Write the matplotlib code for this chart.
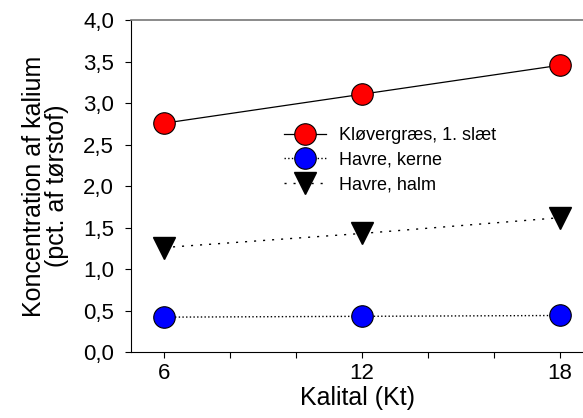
import matplotlib.pyplot as plt

plt.rcParams['font.family'] = ['Liberation Sans', 'DejaVu Sans']

kalital = [6, 12, 18]
kloever = [2.76, 3.11, 3.46]
havre_kerne = [0.42, 0.43, 0.44]
havre_halm = [1.26, 1.43, 1.62]

fig = plt.figure(figsize=(5.83, 4.18), dpi=100)
ax = fig.add_axes([0.2247, 0.158, 0.7753, 0.793])

ax.plot(kalital, kloever, '-', color='black', lw=0.9, marker='o', ms=15.5,
        mfc='#ff0000', mec='black', mew=0.8, label='Kløvergræs, 1. slæt')
ax.plot(kalital, havre_kerne, ':', color='black', lw=1.0, marker='o', ms=15.5,
        mfc='#0000ff', mec='black', mew=0.8, label='Havre, kerne')
ax.plot(kalital, havre_halm, color='black', lw=1.0, ls=(0, (1.5, 5)),
        marker='v', ms=15.5, mfc='black', mec='black', label='Havre, halm')

ax.set_xlim(5, 18.7)
ax.set_ylim(0, 4)
ax.set_xticks(range(6, 19, 2))
ax.set_xticklabels(['6', '', '', '12', '', '', '18'])
ax.set_yticks([i * 0.5 for i in range(9)])
ax.set_yticklabels([f'{i * 0.5:.1f}'.replace('.', ',') for i in range(9)])
ax.tick_params(direction='out', length=4.3, width=0.8, labelsize=16)
ax.tick_params(axis='y', pad=8)
ax.tick_params(axis='x', pad=4)

ax.spines['right'].set_visible(False)
ax.spines['top'].set_color('#777777')
ax.spines['top'].set_linewidth(1.2)

ax.set_xlabel('Kalital (Kt)', fontsize=18, labelpad=1)
ax.set_ylabel('Koncentration af kalium\n(pct. af tørstof)', fontsize=18,
              labelpad=10, linespacing=0.95)

ax.legend(loc='upper left', bbox_to_anchor=(0.472, 0.718), bbox_transform=fig.transFigure,
          frameon=False, fontsize=13, handlelength=2.3, handletextpad=0.75,
          labelspacing=0.42, borderpad=0)

fig.savefig('out.png', dpi=100)
